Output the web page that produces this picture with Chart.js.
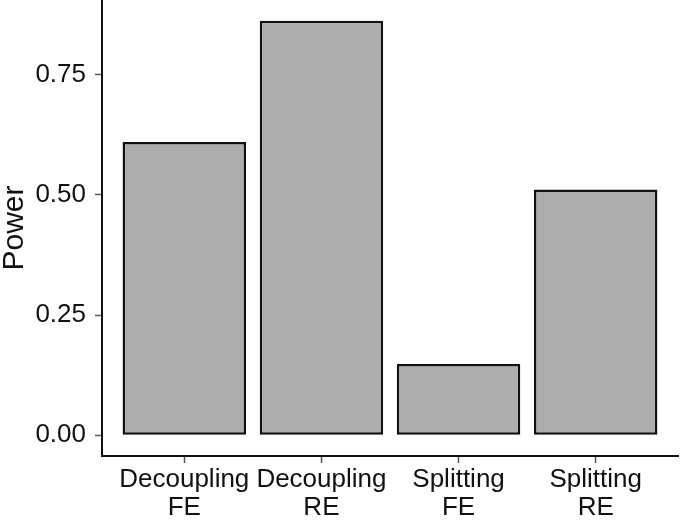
<!DOCTYPE html>
<html>
<head>
<meta charset="utf-8">
<script src="https://cdn.jsdelivr.net/npm/chart.js@4.4.1/dist/chart.umd.min.js"></script>
<style>
  html, body { margin: 0; padding: 0; background: #fff; }
  #wrap { width: 680px; height: 520px; }
</style>
</head>
<body>
<div id="wrap"><canvas id="myChart"></canvas></div>
<script>
// data
const categories = [["Decoupling", "FE"], ["Decoupling", "RE"], ["Splitting", "FE"], ["Splitting", "RE"]];
const power = [0.610, 0.862, 0.148, 0.511];
const yTicks = [0, 0.25, 0.5, 0.75];

const points = power.map((v, i) => ({ x: i + 1, y: v }));
const font = "Liberation Sans, Arial, sans-serif";

const ctx = document.getElementById("myChart").getContext("2d");
new Chart(ctx, {
  type: "bar",
  data: {
    datasets: [{
      data: points,
      backgroundColor: "#adadad",
      borderColor: "#111",
      borderWidth: 2.5,
      borderSkipped: false,
      barPercentage: 1,
      categoryPercentage: 0.9
    }]
  },
  options: {
    responsive: true,
    maintainAspectRatio: false,
    animation: false,
    layout: { padding: { top: 0, right: 2, bottom: 0, left: 0 } },
    plugins: { legend: { display: false }, tooltip: { enabled: false } },
    scales: {
      x: {
        type: "linear",
        min: 0.4,
        max: 4.6,
        offset: false,
        afterBuildTicks: (s) => { s.ticks = categories.map((c, i) => ({ value: i + 1 })); },
        afterFit: (s) => { s.height = 64; s.paddingLeft = 0; s.paddingRight = 0; },
        grid: { offset: false, drawOnChartArea: false, tickLength: 7, tickColor: "#555", tickWidth: 1.5 },
        border: { color: "#111", width: 2 },
        ticks: {
          autoSkip: false,
          maxRotation: 0,
          padding: 3,
          color: "#111",
          font: { family: font, size: 26, lineHeight: 1.08 },
          callback: (v) => categories[v - 1] || ""
        }
      },
      y: {
        min: -0.0431,
        max: 0.905,
        afterBuildTicks: (s) => { s.ticks = yTicks.map(v => ({ value: v })); },
        afterFit: (s) => { s.width = 102; s.paddingTop = 0; s.paddingBottom = 0; },
        grid: { drawOnChartArea: false, tickLength: 7, tickColor: "#555", tickWidth: 1.5 },
        border: { color: "#111", width: 2 },
        title: {
          display: true,
          text: "Power",
          color: "#111",
          padding: { top: 0, bottom: 0 },
          font: { family: font, size: 30, lineHeight: 1 }
        },
        ticks: {
          padding: 9,
          color: "#111",
          font: { family: font, size: 26 },
          callback: (v) => v.toFixed(2)
        }
      }
    }
  }
});
</script>
</body>
</html>
